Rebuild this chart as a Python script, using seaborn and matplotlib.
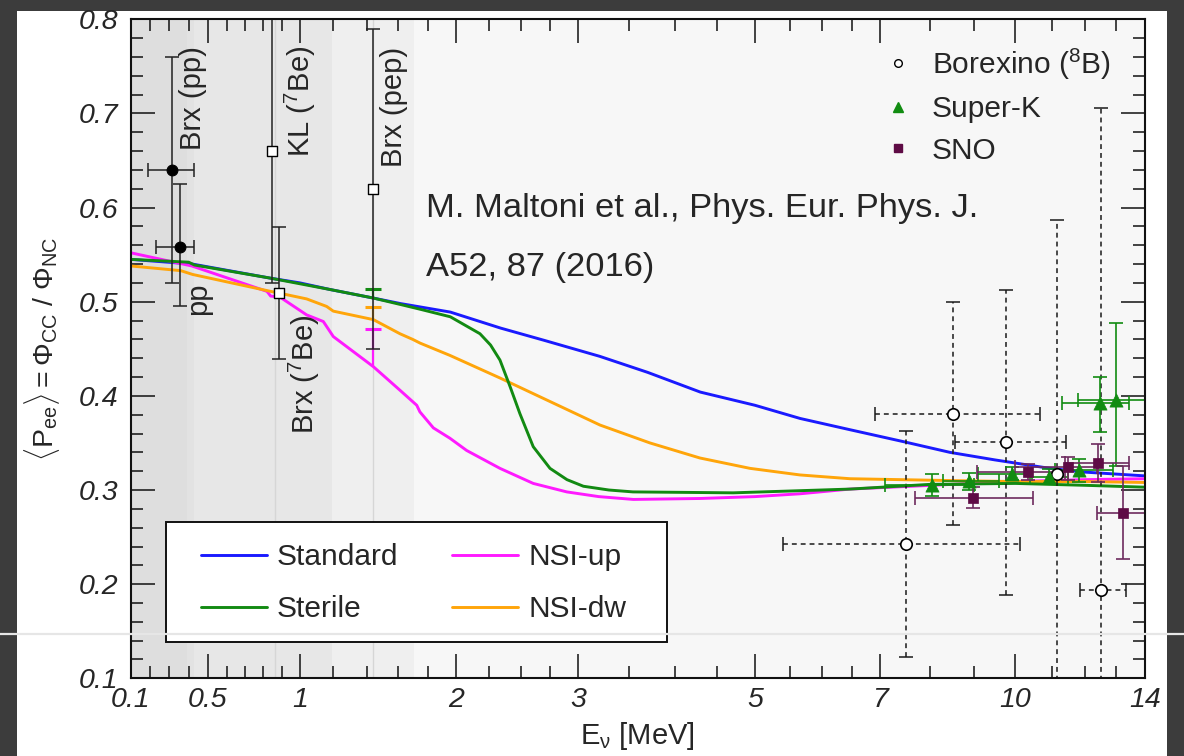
import numpy as np
import pandas as pd
import matplotlib
matplotlib.use("Agg")
import matplotlib.pyplot as plt
import seaborn as sns
from matplotlib.lines import Line2D
from matplotlib.patches import Rectangle

# ---------------- theory curves: <Pee> vs neutrino energy [MeV] ----------------
std_E = [0.1, 0.42, 0.84, 1.0, 1.18, 1.44, 1.62, 1.96, 2.34, 2.7, 3.21, 3.7, 4.3,
         5.0, 5.66, 6.47, 7.5, 8.45, 9.5, 10.95, 12.0, 14.0]
std_P = [0.545, 0.540, 0.525, 0.520, 0.513, 0.504, 0.498, 0.489, 0.472, 0.459, 0.442,
         0.425, 0.404, 0.390, 0.376, 0.364, 0.351, 0.340, 0.332, 0.323, 0.319, 0.315]

ster_E = [0.1, 0.40, 0.43, 0.84, 1.18, 1.44, 1.62, 1.75, 1.96, 2.18, 2.26, 2.335, 2.415,
          2.494, 2.607, 2.75, 2.9, 3.05, 3.3, 3.54, 4.71, 6.47, 8.0, 10.0, 12.0, 14.0]
ster_P = [0.545, 0.542, 0.539, 0.525, 0.513, 0.504, 0.497, 0.492, 0.484, 0.466, 0.454,
          0.438, 0.410, 0.381, 0.346, 0.323, 0.311, 0.304, 0.300, 0.298, 0.297, 0.301,
          0.306, 0.307, 0.305, 0.303]

up_E = [0.1, 0.416, 0.82, 0.84, 0.89, 1.04, 1.14, 1.20, 1.443, 1.615, 1.727, 1.748,
        1.84, 1.957, 2.08, 2.335, 2.607, 2.898, 3.2, 3.544, 4.295, 5.0, 5.658, 6.467,
        8.5, 10.0, 12.0, 14.0]
up_P = [0.552, 0.538, 0.511, 0.506, 0.505, 0.486, 0.479, 0.463, 0.431, 0.406, 0.390,
        0.383, 0.366, 0.355, 0.342, 0.323, 0.307, 0.298, 0.293, 0.290, 0.291, 0.293,
        0.296, 0.301, 0.306, 0.309, 0.311, 0.312]

dw_E = [0.1, 0.36, 0.42, 0.84, 0.89, 1.04, 1.16, 1.20, 1.443, 1.615, 1.70, 1.75, 1.957,
        2.335, 2.75, 3.213, 3.726, 4.295, 4.934, 5.658, 6.467, 8.5, 10.0, 12.0, 14.0]
dw_P = [0.538, 0.533, 0.529, 0.511, 0.509, 0.503, 0.495, 0.490, 0.481, 0.466, 0.460,
        0.456, 0.443, 0.419, 0.394, 0.369, 0.350, 0.334, 0.323, 0.316, 0.312, 0.310,
        0.309, 0.309, 0.308]

model_names = ["Standard", "Sterile", "NSI-up", "NSI-dw"]

# predictions at the pep line (curve value -> averaged value)
pep_E = 1.44
pep_models = ["Sterile", "NSI-dw", "NSI-up"]
pep_low = [0.504, 0.481, 0.431]
pep_top = [0.514, 0.494, 0.471]

# ---------------- low-energy measurements ----------------
pp_labels = ["Brx (pp)", "pp"]
pp_E = [0.314, 0.356]
pp_P = [0.640, 0.558]
pp_Elo = [0.19, 0.233]
pp_Ehi = [0.43, 0.43]
pp_Plo = [0.52, 0.495]
pp_Phi = [0.76, 0.625]

line_labels = ["KL (7Be)", "Brx (7Be)", "Brx (pep)"]
line_E = [0.845, 0.886, 1.44]
line_P = [0.660, 0.509, 0.620]
line_Plo = [0.520, 0.439, 0.450]
line_Phi = [0.800, 0.579, 0.790]

# ---------------- 8B measurements ----------------
brx_E = [7.52, 8.53, 9.77, 11.17, 12.52]
brx_P = [0.243, 0.381, 0.351, 0.317, 0.194]
brx_Elo = [5.4, 6.91, 8.56, 11.17, 11.85]
brx_Ehi = [10.13, 10.68, 11.42, 11.17, 13.35]
brx_Plo = [0.123, 0.263, 0.188, 0.05, 0.05]
brx_Phi = [0.363, 0.500, 0.5125, 0.587, 0.706]

sk_E = [8.05, 8.89, 9.91, 10.92, 11.83, 12.50, 13.0]
sk_P = [0.305, 0.310, 0.317, 0.314, 0.321, 0.392, 0.396]
sk_Elo = [7.1, 8.3, 9.1, 10.4, 11.1, 11.3, 11.8]
sk_Ehi = [9.0, 9.6, 10.45, 11.5, 12.9, 13.45, 14.0]
sk_Plo = [0.294, 0.300, 0.311, 0.306, 0.309, 0.3615, 0.325]
sk_Phi = [0.317, 0.318, 0.324, 0.322, 0.333, 0.4196, 0.477]

sno_E = [8.98, 10.35, 11.5, 12.43, 13.25]
sno_P = [0.292, 0.319, 0.324, 0.329, 0.276]
sno_Elo = [7.7, 9.06, 10.0, 11.4, 12.38]
sno_Ehi = [10.48, 11.4, 12.38, 13.45, 14.0]
sno_Plo = [0.2806, 0.311, 0.311, 0.309, 0.227]
sno_Phi = [0.3035, 0.328, 0.335, 0.349, 0.325]

# ---------------- axis ticks ----------------
x_major = [0.1, 0.5, 1, 2, 3, 5, 7, 10, 14]
x_major_labels = ["0.1", "0.5", "1", "2", "3", "5", "7", "10", "14"]
x_minor = [0.2, 0.3, 0.4, 0.6, 0.7, 0.8, 0.9, 1.2, 1.4, 1.6, 1.8, 2.25, 2.5, 2.75,
           3.5, 4.0, 4.5, 5.5, 6.0, 6.5, 8, 9, 11, 12, 13]
y_major = [0.1, 0.2, 0.3, 0.4, 0.5, 0.6, 0.7, 0.8]
y_major_labels = ["0.1", "0.2", "0.3", "0.4", "0.5", "0.6", "0.7", "0.8"]

# shaded energy windows of the low-energy measurements
band_edges = [(0.1, 0.39), (0.39, 0.43), (0.43, 1.19), (1.19, 1.71)]
band_colors = ["#dedede", "#e2e2e2", "#e7e7e7", "#efefef"]
line_marks = [0.862, 1.44]

# ---------------- custom energy axis (compressed at high energy) ----------------
SCALE_E = np.array([0.1, 0.2, 0.3, 0.4, 0.5, 0.6, 0.7, 0.8, 0.9, 1.0, 1.2, 1.4, 1.6,
                    1.8, 2.0, 2.25, 2.5, 2.75, 3.0, 3.5, 4.0, 4.5, 5.0, 5.5, 6.0, 6.5,
                    7.0, 8.0, 9.0, 10.0, 11.0, 12.0, 13.0, 14.0])
SCALE_U = np.array([130.7, 150.0, 169.0, 188.7, 207.7, 226.7, 245.0, 263.3, 281.7,
                    300.0, 333.3, 366.7, 397.7, 427.7, 456.0, 489.3, 520.7, 550.0,
                    578.3, 629.3, 675.0, 717.3, 755.0, 790.0, 821.7, 852.0, 880.0,
                    930.0, 974.3, 1015.3, 1051.7, 1085.0, 1116.0, 1145.0])


def _pw(v, xs, ys):
    v = np.asarray(v, dtype=float)
    out = np.interp(v, xs, ys)
    s0 = (ys[1] - ys[0]) / (xs[1] - xs[0])
    s1 = (ys[-1] - ys[-2]) / (xs[-1] - xs[-2])
    out = np.where(v < xs[0], ys[0] + (v - xs[0]) * s0, out)
    out = np.where(v > xs[-1], ys[-1] + (v - xs[-1]) * s1, out)
    return out


def e_forward(e):
    return _pw(e, SCALE_E, SCALE_U)


def e_inverse(u):
    return _pw(u, SCALE_U, SCALE_E)


# ---------------- style ----------------
sns.set_theme(style="ticks")
plt.rcParams["font.family"] = ["Liberation Sans", "DejaVu Sans"]
plt.rcParams["mathtext.fontset"] = "custom"
plt.rcParams["mathtext.rm"] = "Liberation Sans"
plt.rcParams["mathtext.it"] = "Liberation Sans:italic"
plt.rcParams["mathtext.bf"] = "Liberation Sans:bold"

COLORS = {"Standard": "#1a1aff", "Sterile": "#128a12", "NSI-up": "#ff1aff", "NSI-dw": "#ffa50a"}
SK_COLOR = "#118c11"
SNO_COLOR = "#5e0b45"
SNO_BAR = "#6e2a5e"

W, H = 1184, 756
fig = plt.figure(figsize=(W / 100, H / 100), dpi=100)
fig.patch.set_facecolor("#3c3c3c")
fig.add_artist(Rectangle((17.3 / W, 0), (1166.7 - 17.3) / W, 745 / H,
                         transform=fig.transFigure, facecolor="white",
                         edgecolor="none", zorder=-5))

AX_L, AX_R, AX_T, AX_B = 130.7, 1145.0, 19.3, 678.3
ax = fig.add_axes([AX_L / W, 1 - AX_B / H, (AX_R - AX_L) / W, (AX_B - AX_T) / H])
ax.set_facecolor("#f7f7f7")
ax.set_xscale("function", functions=(e_forward, e_inverse))
ax.set_xlim(0.1, 14)
ax.set_ylim(0.1, 0.8)

for (e0, e1), c in zip(band_edges, band_colors):
    ax.axvspan(e0, e1, color=c, lw=0, zorder=0)
for e in line_marks:
    ax.axvline(e, color="#d6d6d6", lw=1.0, zorder=0.5)

# theory curves
curves = pd.concat([
    pd.DataFrame({"E": std_E, "P": std_P, "model": "Standard"}),
    pd.DataFrame({"E": up_E, "P": up_P, "model": "NSI-up"}),
    pd.DataFrame({"E": dw_E, "P": dw_P, "model": "NSI-dw"}),
    pd.DataFrame({"E": ster_E, "P": ster_P, "model": "Sterile"}),
], ignore_index=True)
sns.lineplot(data=curves, x="E", y="P", hue="model",
             hue_order=["Standard", "NSI-up", "NSI-dw", "Sterile"],
             palette=COLORS, sort=False, estimator=None, lw=2.1,
             legend=False, ax=ax, zorder=2)

# averaged predictions at the pep line
for m, lo, hi in zip(pep_models, pep_low, pep_top):
    ax.vlines(pep_E, lo, hi, color=COLORS[m], lw=1.6, zorder=2.5)
    ax.plot([pep_E], [hi], marker="_", ms=12, mew=2.2, color=COLORS[m], zorder=2.5)


def asym(center, lo, hi):
    c = np.asarray(center, float)
    return [c - np.asarray(lo, float), np.asarray(hi, float) - c]


# low-energy data
ax.errorbar(pp_E, pp_P, xerr=asym(pp_E, pp_Elo, pp_Ehi), yerr=asym(pp_P, pp_Plo, pp_Phi),
            fmt="none", ecolor="#222222", elinewidth=1.1, capsize=5, capthick=1.1, zorder=6)
ax.errorbar(line_E, line_P, yerr=asym(line_P, line_Plo, line_Phi),
            fmt="none", ecolor="#222222", elinewidth=1.1, capsize=5, capthick=1.1, zorder=6)
sns.scatterplot(x=pp_E, y=pp_P, marker="o", s=60, color="black", edgecolor="black",
                linewidth=0.8, ax=ax, zorder=7, legend=False)
sns.scatterplot(x=line_E, y=line_P, marker="s", s=42, color="white", edgecolor="black",
                linewidth=1.0, ax=ax, zorder=7, legend=False)

# Borexino 8B (dashed bars)
eb = ax.errorbar(brx_E, brx_P, xerr=asym(brx_E, brx_Elo, brx_Ehi),
                 yerr=asym(brx_P, brx_Plo, brx_Phi), fmt="none", ecolor="#1a1a1a",
                 elinewidth=1.1, capsize=5, capthick=1.1, zorder=5)
for lc in eb.lines[2]:
    lc.set_linestyle((0, (3.2, 2.6)))

# Super-K
ax.errorbar(sk_E, sk_P, xerr=asym(sk_E, sk_Elo, sk_Ehi), yerr=asym(sk_P, sk_Plo, sk_Phi),
            fmt="none", ecolor=SK_COLOR, elinewidth=1.2, capsize=5, capthick=1.2, zorder=5)
# SNO
ax.errorbar(sno_E, sno_P, xerr=asym(sno_E, sno_Elo, sno_Ehi), yerr=asym(sno_P, sno_Plo, sno_Phi),
            fmt="none", ecolor=SNO_BAR, elinewidth=1.2, capsize=5, capthick=1.2, zorder=5)

sns.scatterplot(x=brx_E, y=brx_P, marker="o", s=68, color="white", edgecolor="black",
                linewidth=1.2, ax=ax, zorder=7, legend=False)
sns.scatterplot(x=sk_E, y=sk_P, marker="^", s=90, color=SK_COLOR, edgecolor=SK_COLOR,
                linewidth=0.5, ax=ax, zorder=7, legend=False)
sns.scatterplot(x=sno_E, y=sno_P, marker="s", s=62, color=SNO_COLOR, edgecolor=SNO_COLOR,
                linewidth=0.5, ax=ax, zorder=7, legend=False)

# ---------------- axes decoration ----------------
TICK_FS = 20.5
ax.set_xticks(x_major, labels=x_major_labels, fontstyle="italic", fontsize=TICK_FS)
ax.set_xticks(x_minor, minor=True)
ax.set_yticks(y_major, labels=y_major_labels, fontstyle="italic", fontsize=TICK_FS)
ax.set_yticks(np.round(np.arange(0.1, 0.8001, 0.02), 2), minor=True)
ax.tick_params(which="both", direction="in", top=True, right=True, width=1.1,
               color="#111111")
ax.tick_params(which="major", length=17)
ax.tick_params(which="minor", length=8.6)
ax.tick_params(axis="x", which="major", pad=6)
ax.tick_params(axis="y", which="major", pad=9)
for s in ax.spines.values():
    s.set_linewidth(1.5)
    s.set_color("#111111")
    s.set_zorder(8)

ax.set_xlabel(r"E$_{\mathrm{\nu}}$ [MeV]", fontsize=21)
ax.xaxis.set_label_coords(0.5, -0.064)
ax.set_ylabel(r"$\langle\mathrm{P}_{\mathrm{ee}}\rangle = \mathrm{\Phi}_{\mathrm{CC}}$ / $\mathrm{\Phi}_{\mathrm{NC}}$",
              fontsize=20.5)
ax.yaxis.set_label_coords(-0.068, 0.5)

LBL_FS = 21
ax.text(0.4226, 0.661, "Brx (pp)", rotation=90, ha="center", va="bottom", fontsize=LBL_FS, zorder=9)
ax.text(1.0, 0.654, r"KL ($^{7}$Be)", rotation=90, ha="center", va="bottom", fontsize=LBL_FS, zorder=9)
ax.text(1.576, 0.6435, "Brx (pep)", rotation=90, ha="center", va="bottom", fontsize=LBL_FS, zorder=9)
ax.text(0.45, 0.52, "pp", rotation=90, ha="center", va="top", fontsize=LBL_FS, zorder=9)
ax.text(1.025, 0.36, r"Brx ($^{7}$Be)", rotation=90, ha="center", va="bottom", fontsize=LBL_FS, zorder=9)

ax.text(0.2911, 0.7005, "M. Maltoni et al., Phys. Eur. Phys. J.", transform=ax.transAxes,
        ha="left", va="baseline", fontsize=24.8, zorder=9)
ax.text(0.2911, 0.6109, "A52, 87 (2016)", transform=ax.transAxes,
        ha="left", va="baseline", fontsize=24.8, zorder=9)

# model legend (boxed, lower left)
ax.add_patch(Rectangle((0.0352, 0.0546), 0.494, 0.1821, transform=ax.transAxes,
                       facecolor="white", edgecolor="#111111", lw=1.4, zorder=9))
curve_handles = [Line2D([], [], color=COLORS[m], lw=2.1) for m in model_names]
leg1 = ax.legend(curve_handles, model_names, ncol=2, loc="center",
                 bbox_to_anchor=(0.279, 0.1442), frameon=False, fontsize=21.5,
                 handlelength=2.2, handletextpad=0.35, columnspacing=1.8,
                 labelspacing=0.8, borderpad=0.0)
leg1.set_zorder(10)
ax.add_artist(leg1)

# experiment legend (upper right)
data_handles = [
    Line2D([], [], ls="none", marker="o", ms=5.5, mfc="white", mec="black", mew=1.0),
    Line2D([], [], ls="none", marker="^", ms=7.5, mfc=SK_COLOR, mec=SK_COLOR),
    Line2D([], [], ls="none", marker="s", ms=5.5, mfc=SNO_COLOR, mec=SNO_COLOR),
]
data_labels = [r"Borexino ($^{8}$B)", "Super-K", "SNO"]
leg2 = ax.legend(data_handles, data_labels, loc="center left",
                 bbox_to_anchor=((882.7 - AX_L) / (AX_R - AX_L), (AX_B - 105.5) / (AX_B - AX_T)),
                 frameon=False, fontsize=21.5, handlelength=1.0, handletextpad=0.65,
                 labelspacing=0.45, borderpad=0.0, borderaxespad=0.0)
leg2.set_zorder(10)

# thin light rule across the slide
fig.add_artist(Line2D([0, 1], [1 - 634.3 / H] * 2, transform=fig.transFigure,
                      color="#e6e6e6", lw=1.6, zorder=50))

fig.savefig("out.png", dpi=100, facecolor=fig.get_facecolor())
